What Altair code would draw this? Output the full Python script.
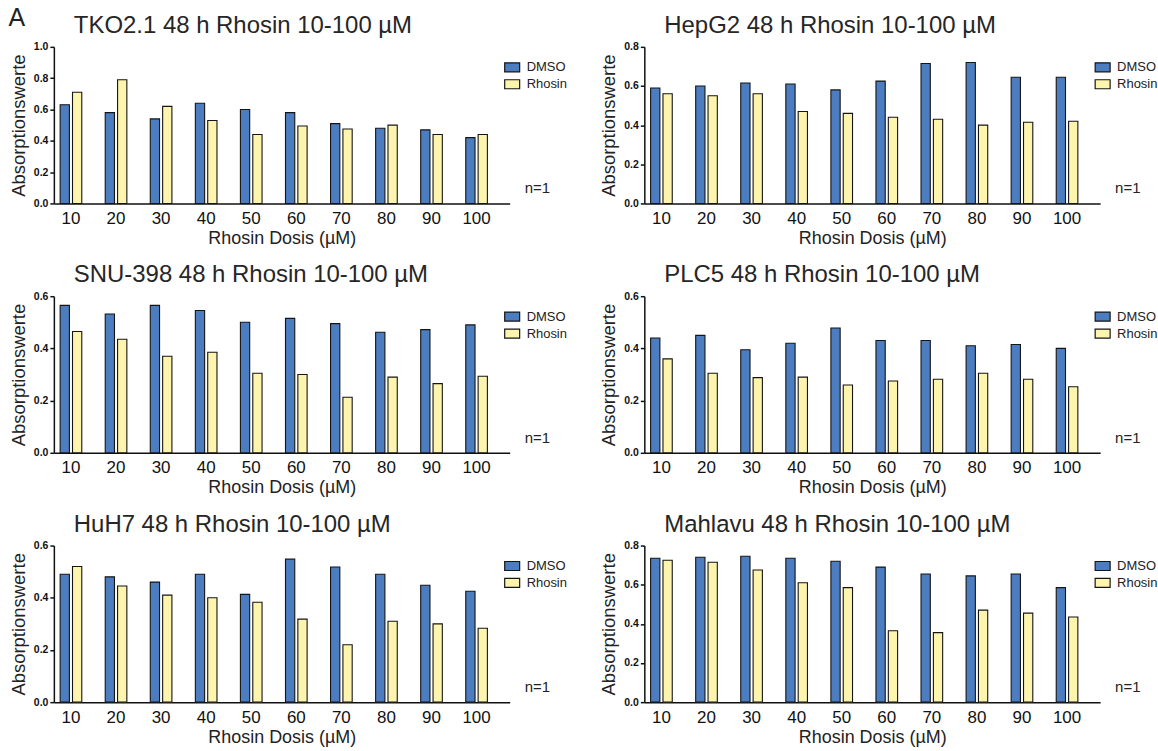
import altair as alt
import pandas as pd

doses = ["10", "20", "30", "40", "50", "60", "70", "80", "90", "100"]
groups = ["DMSO", "Rhosin"]
group_colors = ["#4b7dc0", "#fdf5ae"]

titles = [
    "TKO2.1 48 h Rhosin 10-100 µM",
    "HepG2 48 h Rhosin 10-100 µM",
    "SNU-398 48 h Rhosin 10-100 µM",
    "PLC5 48 h Rhosin 10-100 µM",
    "HuH7 48 h Rhosin 10-100 µM",
    "Mahlavu 48 h Rhosin 10-100 µM",
]

tko_dmso = [0.63, 0.58, 0.54, 0.64, 0.60, 0.58, 0.51, 0.48, 0.47, 0.42]
tko_rhosin = [0.71, 0.79, 0.62, 0.53, 0.44, 0.495, 0.475, 0.50, 0.44, 0.44]
hepg2_dmso = [0.59, 0.60, 0.615, 0.61, 0.58, 0.625, 0.715, 0.72, 0.645, 0.645]
hepg2_rhosin = [0.56, 0.55, 0.56, 0.47, 0.46, 0.44, 0.43, 0.40, 0.415, 0.42]
snu_dmso = [0.565, 0.532, 0.565, 0.545, 0.50, 0.515, 0.495, 0.462, 0.472, 0.49]
snu_rhosin = [0.465, 0.435, 0.37, 0.385, 0.305, 0.30, 0.213, 0.29, 0.265, 0.293]
plc5_dmso = [0.44, 0.45, 0.395, 0.42, 0.478, 0.43, 0.43, 0.41, 0.415, 0.40]
plc5_rhosin = [0.36, 0.305, 0.288, 0.29, 0.26, 0.275, 0.282, 0.305, 0.282, 0.253]
huh7_dmso = [0.49, 0.48, 0.46, 0.49, 0.413, 0.548, 0.518, 0.49, 0.448, 0.425]
huh7_rhosin = [0.52, 0.445, 0.41, 0.40, 0.383, 0.318, 0.22, 0.31, 0.30, 0.283]
mahlavu_dmso = [0.735, 0.74, 0.745, 0.735, 0.72, 0.69, 0.655, 0.645, 0.655, 0.585]
mahlavu_rhosin = [0.725, 0.715, 0.675, 0.61, 0.585, 0.365, 0.355, 0.47, 0.455, 0.435]

y_max = [1.0, 0.8, 0.6, 0.6, 0.6, 0.8]
n_label = ["n=1"]

series = [
    (tko_dmso, tko_rhosin),
    (hepg2_dmso, hepg2_rhosin),
    (snu_dmso, snu_rhosin),
    (plc5_dmso, plc5_rhosin),
    (huh7_dmso, huh7_rhosin),
    (mahlavu_dmso, mahlavu_rhosin),
]

FONT = "Liberation Sans"
W = 457
H = 157
LEGEND_SYMBOL = "M-1.5,-0.9L1.5,-0.9L1.5,0.9L-1.5,0.9Z"


def panel(i):
    dmso, rhosin = series[i]
    rows = []
    for d, a, b in zip(doses, dmso, rhosin):
        rows.append({"dose": d, "group": "DMSO", "value": a})
        rows.append({"dose": d, "group": "Rhosin", "value": b})
    df = pd.DataFrame(rows)
    ymax = y_max[i]
    ticks = [round(k * 0.2, 1) for k in range(int(round(ymax / 0.2)) + 1)]

    bars = alt.Chart(df).mark_bar(stroke="#151515", strokeWidth=1.1).encode(
        x=alt.X(
            "dose:N",
            sort=doses,
            scale=alt.Scale(paddingInner=0.52, paddingOuter=0.317, align=0.22),
            axis=alt.Axis(
                title="Rhosin Dosis (µM)",
                labelAngle=0,
                ticks=False,
                labelFontSize=17,
                labelPadding=7,
                titleFontSize=18,
                titlePadding=3,
            ),
        ),
        xOffset=alt.XOffset(
            "group:N", sort=groups, scale=alt.Scale(paddingInner=0.25, paddingOuter=0)
        ),
        y=alt.Y(
            "value:Q",
            scale=alt.Scale(domain=[0, ymax], nice=False, zero=True),
            axis=alt.Axis(
                title="Absorptionswerte",
                values=ticks,
                format=".1f",
                grid=False,
                labelFontSize=10.5,
                labelFontWeight="bold",
                labelPadding=2,
                tickSize=4,
                titleFontSize=18.5,
                titlePadding=5,
            ),
        ),
        color=alt.Color(
            "group:N",
            sort=groups,
            scale=alt.Scale(domain=groups, range=group_colors),
            legend=alt.Legend(
                title=None,
                orient="none",
                legendX=W - 4,
                legendY=14,
                symbolType=LEGEND_SYMBOL,
                symbolSize=100,
                symbolStrokeColor="#151515",
                symbolStrokeWidth=1.2,
                labelFontSize=13,
                labelFont=FONT,
                labelColor="#222222",
                labelOffset=8,
                rowPadding=2,
                padding=0,
            ),
        ),
    )

    ntext = alt.Chart(pd.DataFrame({"label": n_label})).mark_text(
        font=FONT, fontSize=15, color="#222222", align="left", baseline="middle"
    ).encode(text="label:N", x=alt.value(W + 15), y=alt.value(H - 15))

    return alt.layer(bars, ntext).properties(
        width=W,
        height=H,
        title=alt.TitleParams(
            titles[i],
            anchor="start",
            frame="group",
            dx=20,
            fontSize=24,
            font=FONT,
            fontWeight="normal",
            color="#262626",
            offset=4,
        ),
    )


rows = []
for r in range(3):
    row = alt.hconcat(panel(2 * r), panel(2 * r + 1), spacing=32).resolve_scale(
        color="independent"
    )
    rows.append(row)

chart = (
    alt.vconcat(*rows, spacing=16)
    .resolve_scale(color="independent")
    .properties(
        title=alt.TitleParams(
            "A",
            anchor="start",
            frame="bounds",
            fontSize=25,
            font=FONT,
            fontWeight="normal",
            color="#222222",
            offset=-17,
            dx=-1,
        ),
        padding={"left": 8, "top": 5, "right": 0, "bottom": 0},
    )
    .configure_view(stroke=None)
    .configure_axis(
        labelFont=FONT,
        titleFont=FONT,
        labelColor="#111111",
        titleColor="#222222",
        titleFontWeight="normal",
        domainColor="#111111",
        domainWidth=1.5,
        tickColor="#111111",
        tickWidth=1.5,
    )
)

chart.save("out.html", embed_options={"renderer": "svg", "actions": False})
